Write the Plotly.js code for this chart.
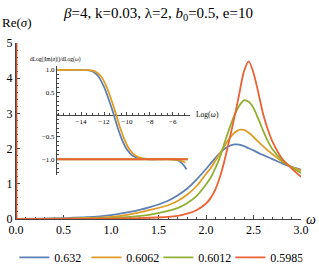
<!DOCTYPE html>
<html><head><meta charset="utf-8">
<script src="https://cdn.plot.ly/plotly-3.0.1.min.js"></script>
<style>html,body{margin:0;padding:0;background:#fff}#c{width:319px;height:273px}</style>
</head><body><div id="c"></div>
<script>
// Main chart: Re(sigma) vs omega
const omega = [0.0, 0.25, 0.5, 0.75, 1.0, 1.2, 1.4, 1.6, 1.7, 1.8, 1.9, 2.0, 2.05, 2.1, 2.15, 2.2, 2.25, 2.3, 2.35, 2.4, 2.45, 2.5, 2.55, 2.6, 2.65, 2.7, 2.8, 2.9, 3.0];
const re0632  = [0.0, 0.01, 0.025, 0.05, 0.11, 0.2, 0.33, 0.52, 0.67, 0.86, 1.12, 1.42, 1.58, 1.74, 1.88, 2.0, 2.08, 2.12, 2.11, 2.07, 2.01, 1.95, 1.88, 1.82, 1.76, 1.7, 1.58, 1.48, 1.40];
const re06062 = [0.0, 0.005, 0.012, 0.03, 0.06, 0.13, 0.25, 0.39, 0.51, 0.69, 0.93, 1.28, 1.45, 1.66, 1.88, 2.1, 2.3, 2.45, 2.53, 2.53, 2.45, 2.33, 2.2, 2.07, 1.95, 1.84, 1.63, 1.48, 1.38];
const re06012 = [0.0, 0.003, 0.006, 0.015, 0.03, 0.06, 0.12, 0.23, 0.31, 0.45, 0.65, 0.98, 1.18, 1.45, 1.78, 2.2, 2.6, 2.95, 3.22, 3.37, 3.33, 3.15, 2.85, 2.52, 2.22, 1.98, 1.67, 1.47, 1.31];
const re05985 = [0.0, 0.001, 0.003, 0.006, 0.01, 0.02, 0.035, 0.06, 0.09, 0.15, 0.25, 0.44, 0.6, 0.85, 1.22, 1.72, 2.3, 2.9, 3.55, 4.2, 4.48, 4.15, 3.6, 3.0, 2.55, 2.2, 1.72, 1.44, 1.2];
// delta-like spike of Re(sigma) at omega -> 0
const spikeOmega = [0.004, 0.004];
const spikeRe = [0, 5];
const seriesNames = ["0.632", "0.6062", "0.6012", "0.5985"];
const colors = ["#5E81B5", "#E19C24", "#8FB032", "#EB6235"];

// Inset: dLog|Im(sigma)|/dLog(omega) vs Log(omega)
const logwBlue = [-16.1, -13.5, -13.0, -12.5, -12.0, -11.6, -11.2, -10.8, -10.4, -10.0, -9.5, -9.0, -8.5, -8.0, -6.0, -5.5, -5.2, -5.0, -4.8];
const slopeBlue = [1.0, 0.995, 0.97, 0.86, 0.62, 0.35, 0.04, -0.3, -0.58, -0.78, -0.92, -0.97, -0.99, -1.0, -1.0, -1.03, -1.09, -1.15, -1.23];
const logwOrange = [-16.1, -13.3, -12.8, -12.3, -11.8, -11.4, -11.0, -10.6, -10.2, -9.8, -9.3, -8.8, -8.3, -7.8, -6.0, -5.5, -5.1, -4.9];
const slopeOrange = [1.0, 0.995, 0.97, 0.87, 0.64, 0.36, 0.05, -0.29, -0.57, -0.77, -0.91, -0.97, -0.99, -1.0, -1.0, -1.02, -1.05, -1.08];
const logwFlat = [-16.1, -4.7];
const slopeGreen = [-1.0, -1.0];
const slopeRed = [-1.0, -1.0];

const mainY = [re0632, re06062, re06012, re05985];
const traces = [];
for (let i = 0; i < 4; i++) {
  traces.push({x: omega, y: mainY[i], type: 'scatter', mode: 'lines', name: seriesNames[i],
    line: {color: colors[i], width: 1.8, shape: 'spline', smoothing: 0.8}, xaxis: 'x', yaxis: 'y'});
}
traces.push({x: spikeOmega, y: spikeRe, type: 'scatter', mode: 'lines', showlegend: false,
  line: {color: '#C8502C', width: 2}, xaxis: 'x', yaxis: 'y', cliponaxis: false});
const insetX = [logwBlue, logwOrange, logwFlat, logwFlat];
const insetY = [slopeBlue, slopeOrange, slopeGreen, slopeRed];
for (let i = 0; i < 4; i++) {
  traces.push({x: insetX[i], y: insetY[i], type: 'scatter', mode: 'lines', showlegend: false,
    line: {color: colors[i], width: 1.8, shape: 'spline', smoothing: 0.8}, xaxis: 'x2', yaxis: 'y2'});
}

const serif = 'Liberation Serif';
const axCol = '#444';
const layout = {
  width: 319, height: 273,
  margin: {l: 16, r: 18, t: 43, b: 54},
  paper_bgcolor: '#fff', plot_bgcolor: '#fff',
  font: {family: serif, size: 12, color: '#000'},
  showlegend: true,
  legend: {orientation: 'h', xref: 'container', yref: 'container', x: 0.045, xanchor: 'left',
    y: 0.11, yanchor: 'top', font: {family: serif, size: 12}, entrywidth: 27, entrywidthmode: 'pixels'},
  xaxis: {domain: [0, 1], range: [0, 3], showgrid: false, zeroline: false, showline: true,
    linecolor: axCol, linewidth: 1, ticks: 'inside', ticklen: 4, tickcolor: axCol,
    tickvals: [0, 0.5, 1, 1.5, 2, 2.5, 3], tickformat: '.1f',
    minor: {dtick: 0.1, ticklen: 2, tickcolor: axCol, ticks: 'inside'},
    tickfont: {family: serif, size: 12}, layer: 'below traces', anchor: 'y'},
  yaxis: {domain: [0, 1], range: [0, 5], showgrid: false, zeroline: false, showline: true,
    linecolor: axCol, linewidth: 1, ticks: 'inside', ticklen: 4, tickcolor: axCol,
    tickvals: [0, 1, 2, 3, 4, 5],
    minor: {dtick: 0.2, ticklen: 2, tickcolor: axCol, ticks: 'inside'},
    tickfont: {family: serif, size: 12}, layer: 'below traces', anchor: 'x'},
  xaxis2: {domain: [0.1439, 0.6105], range: [-16.1, -4.5], anchor: 'free', position: 0.593,
    showgrid: false, zeroline: false, showline: true, linecolor: axCol, linewidth: 1,
    ticks: 'inside', ticklen: 3, tickcolor: axCol, tickvals: [-14, -12, -10, -8, -6],
    minor: {dtick: 0.5, ticklen: 1.5, tickcolor: axCol, ticks: 'inside'},
    tickfont: {family: serif, size: 7}, layer: 'below traces'},
  yaxis2: {domain: [0.2506, 0.867], range: [-1.35, 1.08], anchor: 'x2',
    showgrid: false, zeroline: false, showline: true, linecolor: axCol, linewidth: 1,
    ticks: 'inside', ticklen: 3, tickcolor: axCol, tickvals: [-1, -0.5, 0.5, 1], tickformat: '.1f',
    minor: {dtick: 0.1, ticklen: 1.5, tickcolor: axCol, ticks: 'inside'},
    tickfont: {family: serif, size: 7}, layer: 'below traces'},
  title: {text: '<i>β</i>=4, k=0.03, λ=2, <i>b</i><sub>0</sub>=0.5, e=10',
    font: {family: serif, size: 15}, x: 0.5, xref: 'paper', xanchor: 'center', y: 0.955, yanchor: 'middle'},
  annotations: [
    {text: 'Re(<i>σ</i>)', xref: 'paper', yref: 'paper', x: -0.056, y: 1.06, xanchor: 'left', yanchor: 'bottom',
      showarrow: false, font: {family: serif, size: 13}},
    {text: '<i>ω</i>', xref: 'paper', yref: 'paper', x: 1.01, y: 0.0, xanchor: 'left', yanchor: 'middle',
      showarrow: false, font: {family: serif, size: 14}},
    {text: 'dLog(|Im(<i>σ</i>)|)/dLog(<i>ω</i>)', xref: 'paper', yref: 'paper', x: 0.139, y: 0.905,
      xanchor: 'center', yanchor: 'middle', showarrow: false, font: {family: serif, size: 5.5}},
    {text: 'Log(<i>ω</i>)', xref: 'paper', yref: 'paper', x: 0.672, y: 0.593,
      xanchor: 'center', yanchor: 'middle', showarrow: false, font: {family: serif, size: 7.5}}
  ]
};
Plotly.newPlot('c', traces, layout, {staticPlot: true, displayModeBar: false});
</script></body></html>
